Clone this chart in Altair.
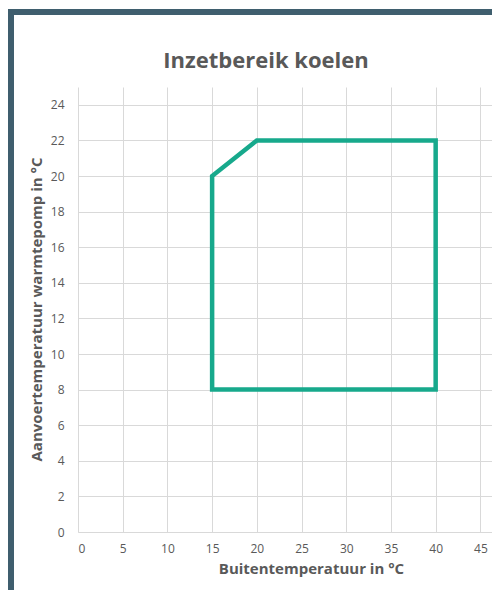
import altair as alt
import pandas as pd

# Data
buiten = [15, 15, 20, 40, 40, 15]          # Buitentemperatuur (°C)
aanvoer = [8, 20, 22, 22, 8, 8]            # Aanvoertemperatuur (°C)
x_ticks = [0, 5, 10, 15, 20, 25, 30, 35, 40, 45]
y_ticks = [0, 2, 4, 6, 8, 10, 12, 14, 16, 18, 20, 22, 24]
chart_title = "Inzetbereik koelen"
x_title = "Buitentemperatuur in °C"
y_title = "Aanvoertemperatuur warmtepomp in °C"

GRAY = "#595959"
GRID = "#d9d9d9"
GREEN = "#17a98c"
FRAME = "#3f5e6e"
FONT = "Open Sans"

W, H = 414, 445

df = pd.DataFrame({"buiten": buiten, "aanvoer": aanvoer, "volgorde": list(range(len(buiten)))})
one = pd.DataFrame({"k": [0]})

line = alt.Chart(df).mark_line(
    color=GREEN, strokeWidth=4.5, strokeJoin="miter", strokeCap="square"
).encode(
    x=alt.X(
        "buiten:Q",
        scale=alt.Scale(domain=[0, 46.3], nice=False, zero=False),
        axis=alt.Axis(
            values=x_ticks, title=x_title, grid=True, gridColor=GRID, gridWidth=1,
            ticks=False, tickSize=0, domain=True, domainColor=GRID, domainWidth=1.2,
            labelPadding=11, labelFontSize=12, labelColor=GRAY, labelFont=FONT,
            titleFont=FONT, titleFontSize=15, titleFontWeight="bold", titleColor=GRAY,
            titleX=233, titleY=36, titleBaseline="middle", titleAlign="center",
        ),
    ),
    y=alt.Y(
        "aanvoer:Q",
        scale=alt.Scale(domain=[0, 25], nice=False),
        axis=alt.Axis(
            values=y_ticks, title=y_title, grid=True, gridColor=GRID, gridWidth=1,
            ticks=False, tickSize=0, domain=False,
            labelPadding=14, labelFontSize=12, labelColor=GRAY, labelFont=FONT,
            titleFont=FONT, titleFontSize=15, titleFontWeight="bold", titleColor=GRAY,
            titleX=-42, titleY=222, titleAngle=270, titleBaseline="middle", titleAlign="center",
        ),
    ),
    order="volgorde:O",
)

frame_left = alt.Chart(one).mark_rule(color=FRAME, strokeWidth=6, clip=False).encode(
    x=alt.value(-67), y=alt.value(-78), y2=alt.value(H + 60)
)
frame_top = alt.Chart(one).mark_rule(color=FRAME, strokeWidth=6, clip=False).encode(
    x=alt.value(-70), x2=alt.value(W + 10), y=alt.value(-75)
)

title = alt.Chart(one).mark_text(
    text=chart_title, fontSize=22, fontWeight="bold", color=GRAY, font=FONT,
    align="center", baseline="middle",
).encode(x=alt.value(188), y=alt.value(-26))

chart = alt.layer(line, frame_left, frame_top, title).properties(
    width=W, height=H,
    autosize=alt.AutoSizeParams(type="none"),
    padding={"left": 70, "top": 79, "right": 0, "bottom": 58},
    background="white",
).configure_view(stroke=None)

chart.save("out.html", embed_options={"renderer": "svg", "actions": False})
